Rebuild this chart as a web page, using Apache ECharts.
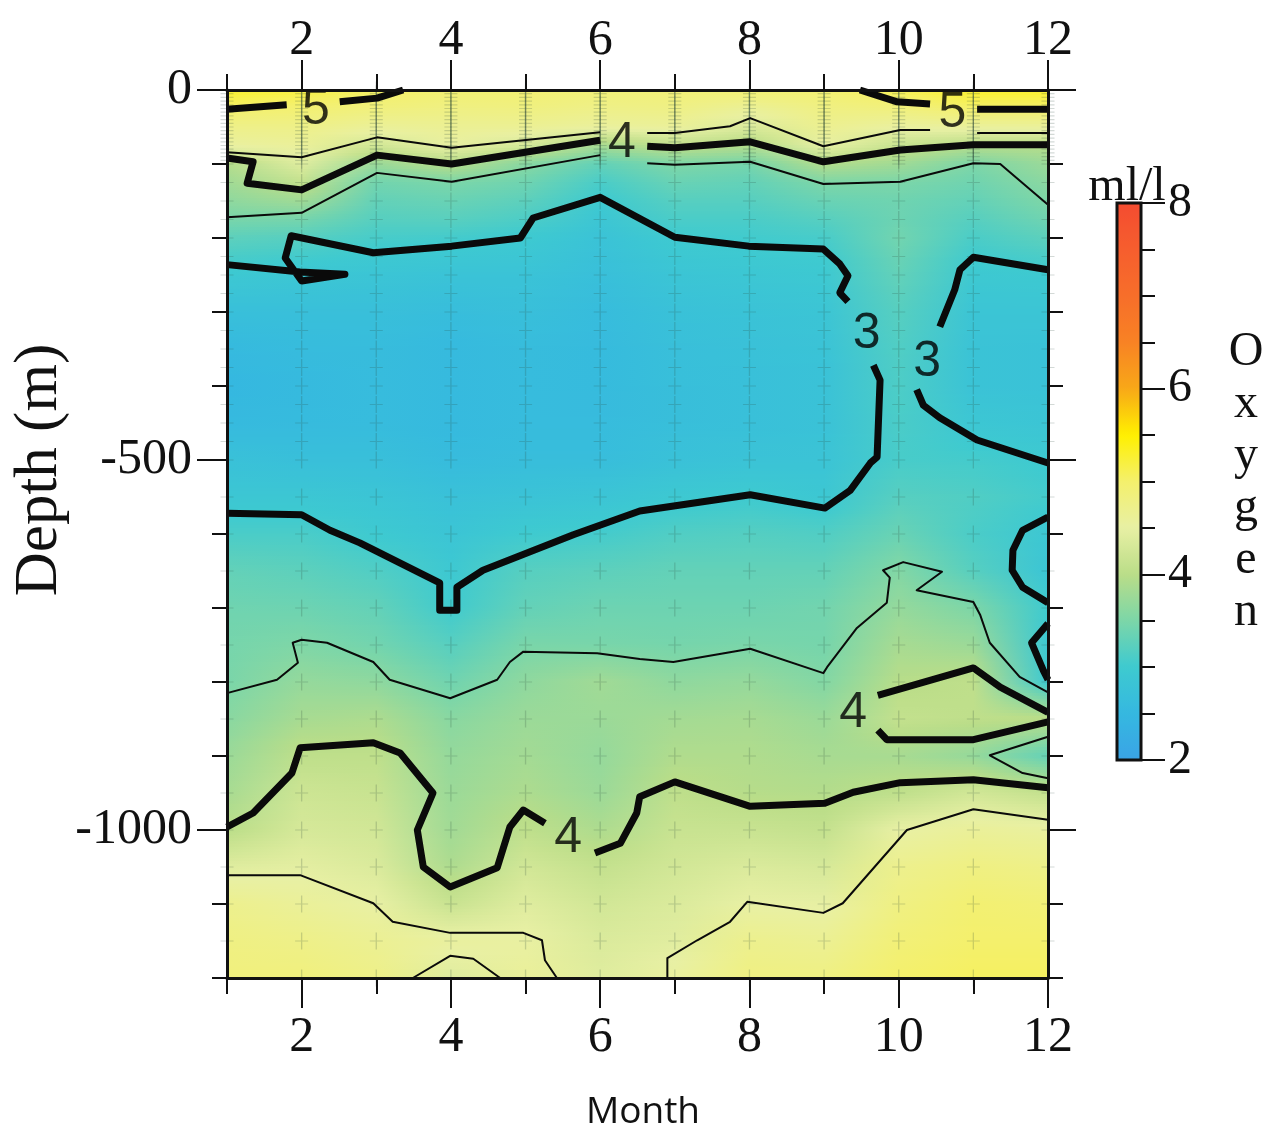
<!DOCTYPE html>
<html><head><meta charset="utf-8">
<script src="https://cdn.jsdelivr.net/npm/echarts@6/dist/echarts.min.js"></script>
<style>html,body{margin:0;padding:0;background:#fff}#chart{width:1271px;height:1131px}</style>
</head><body><div id="chart"></div>
<script>
// ---------------- DATA ----------------
const MONTHS = [1,2,3,4,5,6,7,8,9,10,11,12];
const DEPTHS = [0,25,50,75,100,125,150,175,200,250,300,350,400,450,500,550,600,650,700,750,800,850,900,950,1000,1050,1100,1150,1200];
// oxygen (ml/l) per month, one value per entry of DEPTHS
const OXY_JAN = [5.3,5.0,4.75,4.55,3.95,3.8,3.65,3.48,3.25,2.95,2.7,2.55,2.5,2.55,2.75,2.9,3.1,3.3,3.4,3.45,3.48,3.6,3.75,3.85,4.0,4.4,4.7,4.8,4.85];
const OXY_FEB = [5.2,4.95,4.75,4.6,4.4,4.1,3.8,3.45,3.2,2.9,2.7,2.6,2.55,2.58,2.7,2.9,3.1,3.25,3.38,3.52,3.7,3.85,4.05,4.2,4.3,4.45,4.6,4.75,4.85];
const OXY_MAR = [5.05,4.85,4.62,4.25,3.75,3.42,3.3,3.2,3.08,2.85,2.7,2.62,2.6,2.6,2.7,2.85,2.98,3.15,3.3,3.42,3.65,3.9,4.05,4.15,4.25,4.35,4.5,4.65,4.75];
const OXY_APR = [4.95,4.8,4.65,4.52,4.0,3.5,3.35,3.22,3.05,2.8,2.65,2.55,2.55,2.55,2.6,2.75,2.85,2.95,3.02,3.2,3.4,3.6,3.7,3.75,3.8,3.9,4.15,4.55,4.4];
const OXY_MAY = [4.95,4.82,4.65,4.3,3.6,3.4,3.25,3.12,2.98,2.8,2.7,2.62,2.6,2.6,2.65,2.8,3.0,3.2,3.3,3.48,3.65,3.75,3.82,3.9,4.05,4.25,4.4,4.52,4.6];
const OXY_JUN = [4.9,4.75,4.58,3.85,3.3,3.1,2.98,2.88,2.8,2.7,2.62,2.58,2.58,2.6,2.65,2.85,3.05,3.25,3.38,3.47,3.8,3.75,3.7,3.75,3.9,4.1,4.25,4.35,4.4];
const OXY_JUL = [4.9,4.78,4.6,4.08,3.52,3.35,3.2,3.1,3.0,2.85,2.75,2.7,2.68,2.68,2.75,2.95,3.15,3.3,3.38,3.45,3.65,3.82,3.92,4.05,4.15,4.25,4.35,4.42,4.55];
const OXY_AUG = [4.95,4.62,4.35,3.95,3.45,3.3,3.2,3.1,3.03,2.9,2.8,2.75,2.72,2.72,2.8,3.0,3.18,3.3,3.38,3.48,3.7,3.85,3.92,3.97,4.15,4.35,4.5,4.7,4.8];
const OXY_SEP = [4.95,4.8,4.68,4.5,3.95,3.52,3.35,3.2,3.08,2.95,2.85,2.8,2.78,2.78,2.82,2.92,3.15,3.3,3.42,3.45,3.55,3.75,3.85,3.95,4.1,4.3,4.48,4.65,4.8];
const OXY_OCT = [5.12,4.85,4.55,4.15,3.8,3.5,3.4,3.38,3.42,3.3,3.2,3.15,3.12,3.1,3.08,3.2,3.35,3.55,3.7,3.85,3.98,4.1,3.85,4.05,4.5,4.7,4.8,4.9,5.0];
const OXY_NOV = [5.3,5.0,4.6,3.98,3.5,3.4,3.3,3.2,3.1,2.95,2.85,2.8,2.8,2.9,3.05,3.15,3.1,3.2,3.5,3.75,4.05,4.05,3.7,4.25,4.6,4.8,4.95,5.0,5.05];
const OXY_DEC = [5.3,5.0,4.6,3.98,3.75,3.62,3.52,3.4,3.25,2.98,2.85,2.78,2.78,2.85,2.98,3.05,2.92,2.85,3.02,2.92,2.98,4.02,3.3,4.1,4.55,4.75,4.9,5.0,5.05];

// sampling levels shown as "+" marks (m)
const LEVELS = [0,5,10,15,20,25,30,35,40,45,50,55,60,65,70,75,80,85,90,95,100,125,150,175,200,225,250,275,300,325,350,375,400,425,450,475,500,550,600,650,700,750,800,850,900,950,1000,1050,1100,1150,1200];

// tick values / labels
const MONTH_MAJOR = [2,4,6,8,10,12];
const MONTH_MINOR = [1,3,5,7,9,11];
const DEPTH_MAJOR = [0,-500,-1000];
const DEPTH_MINOR = [-100,-200,-300,-400,-600,-700,-800,-900,-1100,-1200];
const CBAR_MAJOR = [2,4,6,8];
const CBAR_MINOR = [2.5,3,3.5,4.5,5,5.5,6.5,7,7.5];
const CB_MIN = 2, CB_MAX = 8;
const PALETTE = ['#3AA3E6','#35B8E0','#3ECAD0','#7CD6A8','#BADD88','#E8F0A4','#F4F06C','#FFF000','#F8A818','#F88224','#F76E2A','#F65E2E','#F44C30'];

// contour lines [month, depth]
const C5_L1 = [[1,-26],[1.80,-20]];
const C5_L2 = [[2.51,-16],[3.01,-11],[3.36,0]];
const C5_R1 = [[9.48,0],[9.98,-16],[10.42,-19]];
const C5_R2 = [[11.05,-26],[12,-26]];
const C45_T1 = [[1,-84],[2,-91],[3.01,-64],[4.01,-78],[6,-57]];
const C45_T2 = [[6.63,-58],[7,-58],[7.74,-49],[8.01,-38],[8.99,-76],[10.02,-54],[10.42,-54]];
const C45_T3 = [[11.05,-58],[12,-58]];
const C4_T1 = [[1,-92],[1.35,-97],[1.27,-126],[2,-135],[3.01,-88],[4.01,-100],[6,-68]];
const C4_T2 = [[6.63,-76],[7,-78],[8.01,-70],[8.99,-97],[10.02,-81],[11,-74],[12,-74]];
const C35_T1 = [[1,-172],[2,-166],[3.01,-112],[4.01,-124],[6,-88]];
const C35_T2 = [[6.63,-99],[7,-101],[8.01,-97],[8.99,-127],[10.02,-124],[11,-99],[11.36,-100],[12,-155]];
const C3_A = [[1,-236],[1.98,-246],[2.58,-249],[2,-258],[1.78,-227],[1.86,-197],[2.96,-220],[4.01,-211],[4.93,-200],[5.1,-173],[6,-145],[7,-199],[7.99,-211],[8.99,-215],[9.21,-235],[9.32,-251],[9.21,-274],[9.32,-286]];
const C3_B = [[9.66,-372],[9.75,-392],[9.71,-496],[9.62,-504],[9.35,-541],[9.01,-565],[8.01,-547],[6.53,-569],[5.64,-601],[4.43,-649],[4.08,-672],[4.08,-703],[3.85,-703],[3.85,-666],[2.78,-612],[2.38,-595],[2,-574],[1,-572]];
const C3_RA = [[12,-243],[11,-226],[10.82,-243],[10.75,-270],[10.55,-320]];
const C3_RB = [[10.24,-405],[10.33,-426],[10.55,-443],[11.05,-473],[12,-504]];
const C3_E1 = [[12,-577],[11.66,-595],[11.53,-622],[11.52,-649],[11.66,-672],[12,-693]];
const C3_E2 = [[12,-721],[11.78,-747],[11.94,-785],[12,-797]];
const C4_TG1 = [[12,-841],[11.36,-807],[11,-781],[9.72,-818]];
const C4_TG2 = [[9.72,-865],[9.84,-878],[11,-878],[12,-854]];
const C35_TRI = [[12,-874],[11.22,-899],[11.66,-923],[12,-930]];
const C4_D1 = [[1,-996],[1.35,-977],[1.87,-923],[1.98,-889],[2.96,-882],[3.32,-896],[3.76,-950],[3.55,-1000],[3.63,-1050],[3.99,-1077],[4.62,-1051],[4.79,-996],[4.97,-973],[5.26,-991]];
const C4_D2 = [[5.93,-1031],[6.27,-1018],[6.49,-977],[6.53,-955],[7,-935],[8.01,-968],[9.01,-964],[9.39,-949],[10.02,-936],[11,-932],[12,-943]];
const C35_MID = [[1,-815],[1.67,-797],[1.95,-774],[1.88,-747],[2,-743],[2.34,-747],[2.96,-773],[3.18,-797],[3.99,-822],[4.62,-797],[4.79,-773],[4.97,-759],[5.96,-761],[6.53,-769],[6.98,-773],[8.01,-755],[8.99,-788],[9.04,-780],[9.44,-727],[9.84,-693],[9.88,-659],[9.79,-649],[10.06,-638],[10.58,-651],[10.24,-676],[11,-692],[11.09,-709],[11.22,-747],[11.62,-793],[12,-814]];
const C45_D1 = [[1,-1061],[1.98,-1061],[2.96,-1099],[3.22,-1124],[3.99,-1139],[4.97,-1139],[5.22,-1149],[5.26,-1176],[5.42,-1200]];
const C45_D2 = [[6.9,-1200],[6.9,-1173],[7.3,-1149],[7.74,-1124],[7.97,-1097],[8.99,-1112],[9.25,-1099],[10.11,-1000],[11,-972],[12,-986]];
const C45_HUMP = [[3.49,-1200],[3.99,-1170],[4.3,-1174],[4.66,-1200]];

const CONTOUR_LABELS = [[2.19,-27,'5'],[10.72,-32,'5'],[6.29,-72,'4'],[9.57,-330,'3'],[10.38,-368,'3'],[9.39,-842,'4'],[5.57,-1011,'4']];

// ---------------- BUILD ----------------
const OXY = [OXY_JAN,OXY_FEB,OXY_MAR,OXY_APR,OXY_MAY,OXY_JUN,OXY_JUL,OXY_AUG,OXY_SEP,OXY_OCT,OXY_NOV,OXY_DEC];
const THICK = [C5_L1,C5_L2,C5_R1,C5_R2,C4_T1,C4_T2,C3_A,C3_B,C3_RA,C3_RB,C3_E1,C3_E2,C4_TG1,C4_TG2,C4_D1,C4_D2];
const THIN = [C45_T1,C45_T2,C45_T3,C35_T1,C35_T2,C35_TRI,C35_MID,C45_D1,C45_D2,C45_HUMP];

const PAL_RGB = PALETTE.map(h => [parseInt(h.slice(1,3),16),parseInt(h.slice(3,5),16),parseInt(h.slice(5,7),16)]);
function valueColor(v){
  let t = (v - CB_MIN) / (CB_MAX - CB_MIN);
  t = Math.max(0, Math.min(1, t)) * (PAL_RGB.length - 1);
  const i = Math.min(PAL_RGB.length - 2, Math.floor(t));
  const f = t - i;
  const a = PAL_RGB[i], b = PAL_RGB[i+1];
  return 'rgb(' + [0,1,2].map(k => Math.round(a[k] + (b[k]-a[k])*f)).join(',') + ')';
}

const heatData = DEPTHS.map((d, j) => [-d].concat(OXY.map(col => col[j])));
const markData = [];
MONTHS.forEach(m => LEVELS.forEach(l => markData.push([m, -l])));

const SERIF = '"Liberation Serif", "Times New Roman", serif';
const SANS = '"Liberation Sans", Arial, sans-serif';
const INK = '#111';

function xAx(pos, ticks, len, labels, margin){
  return {type:'value', gridIndex:0, min:1, max:12, position:pos,
    axisLine:{show: !!labels, onZero:false, lineStyle:{color:INK, width:3}},
    axisTick:{show:true, customValues:ticks, length:len, inside:false, lineStyle:{color:INK, width:2}},
    axisLabel: labels ? {show:true, customValues:ticks, fontFamily:SERIF, fontSize:50, color:INK, margin:margin} : {show:false},
    splitLine:{show:false}, z:10};
}
function yAx(pos, ticks, len, labels){
  return {type:'value', gridIndex:0, min:-1200, max:0, position:pos,
    axisLine:{show: len > 20, onZero:false, lineStyle:{color:INK, width:3}},
    axisTick:{show:true, customValues:ticks, length:len, inside:false, lineStyle:{color:INK, width:2}},
    axisLabel: labels ? {show:true, customValues:ticks, fontFamily:SERIF, fontSize:50, color:INK, margin:35,
      formatter: v => String(v)} : {show:false},
    splitLine:{show:false}, z:10};
}

const series = [];
series.push({
  type:'custom', xAxisIndex:0, yAxisIndex:0, data:heatData, encode:{x:1, y:0}, clip:true, silent:true, z:1,
  renderItem: function(params, api){
    const j = params.dataIndex;
    if (j >= DEPTHS.length - 1) return {type:'group', children:[]};
    const m0 = MONTHS[0], m1 = MONTHS[MONTHS.length-1];
    const pTop = api.coord([m0, -DEPTHS[j]]);
    const pBot = api.coord([m1, -DEPTHS[j+1]]);
    const x0 = pTop[0], x1 = pBot[0], yTop = pTop[1], yBot = pBot[1];
    const n = Math.max(1, Math.ceil((yBot - yTop) / 3));
    const h = (yBot - yTop) / n;
    const children = [];
    for (let k = 0; k < n; k++) {
      const t = (k + 0.5) / n;
      const stops = MONTHS.map((m, i) => ({offset:(m - m0)/(m1 - m0),
        color: valueColor(OXY[i][j]*(1-t) + OXY[i][j+1]*t)}));
      children.push({type:'rect', shape:{x:x0, y:yTop + h*k - 0.4, width:x1 - x0, height:h + 0.8},
        style:{fill:new echarts.graphic.LinearGradient(0,0,1,0,stops)}});
    }
    return {type:'group', children:children};
  }
});
series.push({
  type:'scatter', xAxisIndex:0, yAxisIndex:0, data:markData, silent:true, z:3,
  symbol:'path://M-1,-0.07 L1,-0.07 L1,0.07 L-1,0.07 Z M-0.1,-1 L0.1,-1 L0.1,1 L-0.1,1 Z',
  symbolSize:[13,17], itemStyle:{color:'rgba(45,70,60,0.26)'}
});
THICK.forEach(c => series.push({type:'line', xAxisIndex:0, yAxisIndex:0, data:c, showSymbol:false, symbol:'none',
  silent:true, z:5, lineStyle:{color:'#0a0a0a', width:7, join:'round', cap:'butt'}}));
THIN.forEach(c => series.push({type:'line', xAxisIndex:0, yAxisIndex:0, data:c, showSymbol:false, symbol:'none',
  silent:true, z:5, lineStyle:{color:'#0a0a0a', width:2, join:'round'}}));
series.push({type:'scatter', xAxisIndex:0, yAxisIndex:0, data:CONTOUR_LABELS, silent:true, z:6,
  symbolSize:1, itemStyle:{color:'rgba(0,0,0,0)'},
  label:{show:true, position:'inside', formatter:p => p.data[2], fontFamily:SANS, fontSize:50, color:'#000',
    textBorderWidth:0, textBorderColor:'transparent'}});

const option = {
  animation:false,
  backgroundColor:'#ffffff',
  grid:[
    {left:227, top:90, width:821, height:888, show:false},
    {left:1117, top:203, width:24, height:557, show:true, borderColor:INK, borderWidth:3, backgroundColor:'rgba(0,0,0,0)', z:10}
  ],
  xAxis:[
    xAx('bottom', MONTH_MAJOR, 30, true, 35),
    xAx('bottom', MONTH_MINOR, 16, false),
    xAx('top', MONTH_MAJOR, 30, true, 24),
    xAx('top', MONTH_MINOR, 16, false),
    {type:'value', gridIndex:1, min:1, max:2, show:false}
  ],
  yAxis:[
    yAx('left', DEPTH_MAJOR, 30, true),
    yAx('left', DEPTH_MINOR, 15, false),
    yAx('right', DEPTH_MAJOR, 28, false),
    yAx('right', DEPTH_MINOR, 15, false),
    {type:'value', gridIndex:1, min:CB_MIN, max:CB_MAX, position:'right',
      axisLine:{show:false, onZero:false}, splitLine:{show:false},
      axisTick:{show:true, inside:false, customValues:CBAR_MAJOR, length:24, lineStyle:{color:INK, width:2}},
      axisLabel:{show:true, customValues:CBAR_MAJOR, fontFamily:SERIF, fontSize:48, color:INK, margin:27}, z:12},
    {type:'value', gridIndex:1, min:CB_MIN, max:CB_MAX, position:'right',
      axisLine:{show:false, onZero:false}, splitLine:{show:false},
      axisTick:{show:true, inside:false, customValues:CBAR_MINOR, length:14, lineStyle:{color:INK, width:2}},
      axisLabel:{show:false}, z:12}
  ],
  visualMap:{type:'continuous', min:CB_MIN, max:CB_MAX, seriesIndex:0, dimension:1, calculable:false, hoverLink:false,
    orient:'vertical', left:1117, top:203, itemWidth:24, itemHeight:557, padding:0, text:null, showLabel:false,
    inRange:{color:PALETTE}},
  graphic:[
    {type:'text', x:40, y:470, rotation:Math.PI/2, silent:true,
      style:{text:'Depth (m)', fontFamily:SERIF, fontSize:61, fill:INK, align:'center', verticalAlign:'middle'}},
    {type:'text', x:643, y:1112, silent:true,
      style:{text:'Month', fontFamily:'"Open Sans", sans-serif', fontSize:37, fill:INK, align:'center', verticalAlign:'middle'}},
    {type:'text', x:1127, y:187, silent:true,
      style:{text:'ml/l', fontFamily:SERIF, fontSize:48, fill:INK, align:'center', verticalAlign:'middle'}},
    {type:'text', x:1246, y:326, silent:true,
      style:{text:'O\nx\ny\ng\ne\nn', fontFamily:SERIF, fontSize:48, lineHeight:52, fill:INK, align:'center', verticalAlign:'top'}}
  ],
  series:series
};
const chart = echarts.init(document.getElementById('chart'), null, {renderer:'canvas'});
chart.setOption(option);
</script></body></html>
